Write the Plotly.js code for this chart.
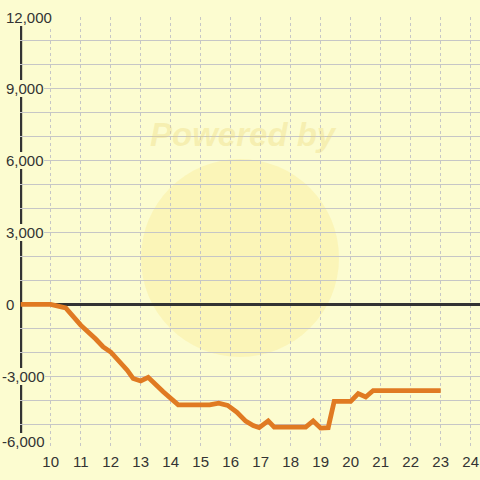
<!DOCTYPE html>
<html>
<head>
<meta charset="utf-8">
<script src="https://cdn.plot.ly/plotly-3.0.1.min.js"></script>
<style>html,body{margin:0;padding:0;background:#fcfcd0;}#chart{width:480px;height:480px;}</style>
</head>
<body>
<div id="chart"></div>
<script>
// Data
const hours = [9, 10, 10.5, 11, 11.5, 11.75, 12, 12.4, 12.55, 12.75, 13, 13.25, 13.5, 13.75, 14.25,
  15.3, 15.6, 15.9, 16.2, 16.5, 16.75, 16.95, 17.25, 17.45, 18.5, 18.75, 19, 19.25, 19.45,
  20, 20.25, 20.5, 20.75, 23];
const values = [0, 0, -150, -870, -1450, -1780, -1990, -2540, -2750, -3100, -3200, -3050, -3380, -3650, -4200,
  -4200, -4130, -4220, -4500, -4880, -5060, -5150, -4870, -5130, -5130, -4870, -5170, -5150, -4050,
  -4050, -3730, -3870, -3600, -3600];
const xTicks = [10, 11, 12, 13, 14, 15, 16, 17, 18, 19, 20, 21, 22, 23, 24];
const yTicks = [-6000, -3000, 0, 3000, 6000, 9000, 12000];
const watermarkText = 'Powered by';

const BG = '#fcfcd0';
const FONT = 'Liberation Sans, Arial, sans-serif';
const plotLeft = 20, plotWidth = 460, plotTop = 17, plotHeight = 431;
const xStart = 9 - 0.7 / 30;
const pxToPaperX = px => (px - plotLeft) / plotWidth;
const pxToPaperY = py => (plotTop + plotHeight - py) / plotHeight;
const yMin = Math.min(...yTicks);

const yLabelAnnotations = yTicks.map(v => ({
  xref: 'paper', yref: 'y',
  x: pxToPaperX(v < 0 ? 2 : 6), y: v,
  xanchor: 'left', yanchor: 'middle',
  yshift: v === yMin ? 7 : 0,
  text: v.toLocaleString('en-US'),
  showarrow: false,
  bgcolor: BG, borderpad: 0, borderwidth: 0,
  font: {family: FONT, size: 15, color: '#333333'}
}));

const trace = {
  x: hours, y: values,
  type: 'scatter', mode: 'lines',
  line: {color: '#e07a22', width: 4.8},
  hoverinfo: 'skip'
};

const layout = {
  width: 480, height: 480,
  paper_bgcolor: BG, plot_bgcolor: 'rgba(0,0,0,0)',
  margin: {l: plotLeft, r: 0, t: plotTop, b: 480 - plotTop - plotHeight, pad: 0},
  showlegend: false,
  font: {family: FONT, size: 15, color: '#333333'},
  xaxis: {
    range: [xStart, xStart + plotWidth / 30],
    tickvals: xTicks, ticktext: xTicks.map(String),
    showgrid: true, gridcolor: '#c6c6c6', gridwidth: 1, griddash: '3px,3px',
    zeroline: false, showline: false, ticks: '',
    ticklabelstandoff: 3,
    tickfont: {family: FONT, size: 15, color: '#333333'},
    automargin: false, fixedrange: true
  },
  yaxis: {
    range: [yMin, Math.max(...yTicks)],
    tick0: 0, dtick: 1000,
    showticklabels: false,
    showgrid: true, gridcolor: '#c6c6c6', gridwidth: 1,
    zeroline: true, zerolinecolor: '#333333', zerolinewidth: 3,
    showline: false, ticks: '',
    automargin: false, fixedrange: true
  },
  shapes: [
    {type: 'circle', xref: 'paper', yref: 'paper', layer: 'below',
     x0: pxToPaperX(141), x1: pxToPaperX(339), y0: pxToPaperY(357), y1: pxToPaperY(159),
     fillcolor: 'rgba(250,232,140,0.35)', line: {width: 0}},
    {type: 'line', xref: 'x', yref: 'paper', layer: 'between',
     x0: 9, x1: 9, y0: 0, y1: 1,
     line: {color: '#333333', width: 3}}
  ],
  annotations: yLabelAnnotations.concat([
    {xref: 'paper', yref: 'paper', x: pxToPaperX(243), y: pxToPaperY(134),
     xanchor: 'center', yanchor: 'middle', showarrow: false,
     text: '<b><i>' + watermarkText + '</i></b>',
     font: {family: FONT, size: 33, color: 'rgba(235,215,120,0.35)'}}
  ])
};

Plotly.newPlot('chart', [trace], layout, {displayModeBar: false, staticPlot: true});
</script>
</body>
</html>
